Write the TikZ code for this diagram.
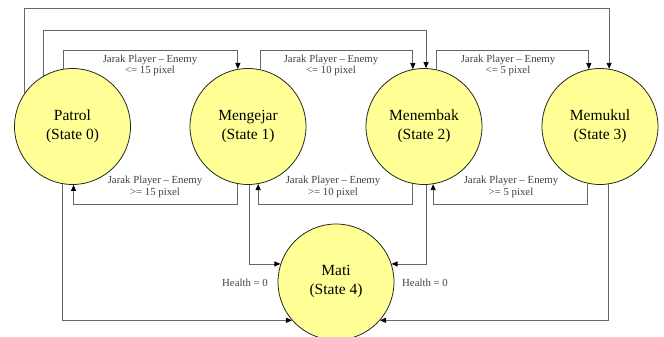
\documentclass[tikz,border=0pt]{standalone}
\usepackage{fontspec}
\setmainfont{Liberation Serif}
\usetikzlibrary{arrows.meta}
\definecolor{stfill}{RGB}{255,255,150}
\tikzset{
  state/.style={circle, draw=black!85, line width=0.8pt, fill=stfill, minimum size=116pt, inner sep=0pt, align=center, font=\fontsize{15.5}{19}\selectfont},
  conn/.style={draw=black!60, line width=0.9pt, -{Triangle[length=6pt,width=5pt,color=black]}},
  lbl/.style={align=center, inner sep=0pt, font=\fontsize{10.8}{11.5}\selectfont, text=black!75}
}
\begin{document}
\begin{tikzpicture}[x=1pt,y=-1pt]
\useasboundingbox (0,0) rectangle (664,337);
\node[state] (p) at (72.5,126.5) {Patrol\\(State 0)};
\node[state] (m1) at (248,126.5) {Mengejar\\(State 1)};
\node[state] (m2) at (424,126.5) {Menembak\\(State 2)};
\node[state] (m3) at (600,126.5) {Memukul\\(State 3)};
\node[state] (mati) at (336,282) {Mati\\(State 4)};

\coordinate (y1) at (0,8);
\coordinate (y2) at (0,30);
\coordinate (y3) at (0,50);
\coordinate (yb) at (0,204);

% top connectors
\draw[conn] (p.146) -- (p.146 |- y1) -| (m3.81);
\draw[conn] (p.120) -- (p.120 |- y2) -| (m2.88);
\draw[conn] (p.99) -- (p.99 |- y3) -| (m1.100);
\draw[conn] (m1.78) -- (m1.78 |- y3) -| (m2.101);
\draw[conn] (m2.78) -- (m2.78 |- y3) -| (m3.101);

% bottom return connectors
\draw[conn] (m1.260) -- (m1.260 |- yb) -| (p.271);
\draw[conn] (m2.259) -- (m2.259 |- yb) -| (m1.280);
\draw[conn] (m3.258) -- (m3.258 |- yb) -| (m2.279);

% to Mati
\draw[conn] (p.260) |- (mati.221);
\draw[conn] (m1.271) |- (mati.162);
\draw[conn] (m2.272) |- (mati.18);
\draw[conn] (m3.278) |- (mati.319);

% labels
\node[lbl] (t1) at (150,65.5) {Jarak Player – Enemy\\<= 15 pixel};
\node[lbl] (t2) at (331,65.5) {Jarak Player – Enemy\\<= 10 pixel};
\node[lbl] (t3) at (508,65.5) {Jarak Player – Enemy\\<= 5 pixel};
\node[lbl] (b1) at (155,187) {Jarak Player – Enemy\\>= 15 pixel};
\node[lbl] (b2) at (333,187) {Jarak Player – Enemy\\>= 10 pixel};
\node[lbl] (b3) at (511,187) {Jarak Player – Enemy\\>= 5 pixel};
\node[lbl] (h1) at (245,283) {Health = 0};
\node[lbl] (h2) at (425,283) {Health = 0};
\end{tikzpicture}
\end{document}
